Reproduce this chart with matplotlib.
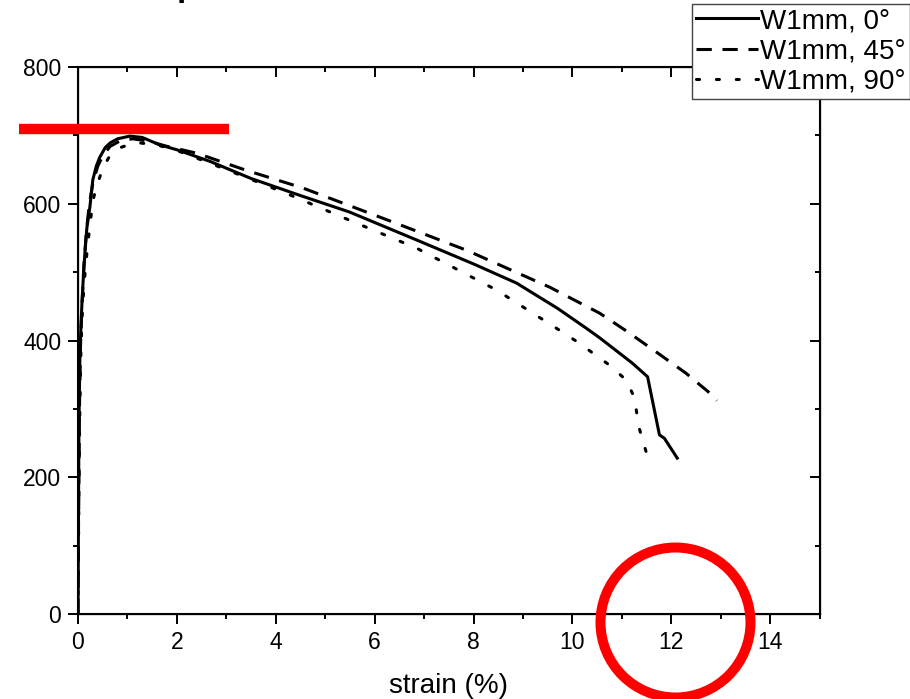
import numpy as np
import matplotlib.pyplot as plt

plt.rcParams['font.family'] = ['Liberation Sans', 'DejaVu Sans']

# strain (%) / stress values
x_0deg = [0, 0.01, 0.02, 0.04, 0.06, 0.08, 0.11, 0.14, 0.18, 0.24, 0.30, 0.37, 0.44,
          0.55, 0.65, 0.8, 1.05, 1.3, 1.66, 2.0, 2.67, 3.5, 4.5, 5.49, 6.85, 8.0,
          8.87, 9.7, 10.28, 10.55, 11.21, 11.52, 11.76, 11.86, 12.12]
y_0deg = [0, 150, 280, 382, 420, 455, 495, 528, 565, 595, 635, 655, 668,
          682, 689, 695, 699, 697, 686, 679, 662, 637, 612, 588, 547, 512,
          484, 447, 418, 404, 367, 347, 262, 257, 228]

x_45deg = [0, 0.01, 0.03, 0.05, 0.08, 0.12, 0.17, 0.23, 0.3, 0.4, 0.5, 0.65, 0.85,
           1.1, 1.4, 1.8, 2.4, 3.4, 4.55, 6.16, 7.86, 9.54, 10.55, 11.09, 11.7,
           12.3, 12.83, 12.92]
y_45deg = [0, 120, 300, 390, 450, 510, 560, 600, 630, 655, 670, 684, 692,
           695, 692, 684, 674, 649, 623, 579, 532, 478, 440, 414, 383,
           352, 320, 312]

x_90deg = [0, 0.01, 0.03, 0.05, 0.08, 0.12, 0.18, 0.25, 0.32, 0.4, 0.5, 0.65, 0.85,
           1.05, 1.25, 1.6, 2.0, 3.0, 4.22, 5.49, 6.85, 8.46, 9.74, 10.1, 10.75,
           11.09, 11.25, 11.35, 11.54]
y_90deg = [0, 100, 260, 360, 430, 480, 528, 575, 610, 630, 652, 671, 682,
           687, 689, 686, 678, 650, 615, 576, 535, 474, 415, 398, 364,
           342, 317, 272, 225]

labels = ['W1mm, 0°', 'W1mm, 45°', 'W1mm, 90°']
x_ticks = [0, 2, 4, 6, 8, 10, 12, 14]
y_ticks = [0, 200, 400, 600, 800]

# red marks drawn over the chart
red_bar_x = [-1.2, 3.05]
red_bar_y = [709, 709]
red_ring_x = 12.08
red_ring_y = -12

fig = plt.figure(figsize=(9.1, 6.99), dpi=100)
ax = fig.add_axes([0.0857, 0.1216, 0.815, 0.7825])

lw = 2.2
ax.plot(x_0deg, y_0deg, color='black', lw=lw, label=labels[0])
ax.plot(x_45deg, y_45deg, color='black', lw=lw, dashes=(5, 3.5), label=labels[1])
ax.plot(x_90deg, y_90deg, color='black', lw=lw, dashes=(1, 5.5),
        dash_capstyle='round', label=labels[2])

ax.set_xlim(0, 15)
ax.set_ylim(0, 800)
ax.set_xticks(x_ticks)
ax.set_yticks(y_ticks)
ax.set_xticks(np.arange(0, 16, 1), minor=True)
ax.set_yticks(np.arange(0, 900, 100), minor=True)
ax.tick_params(which='both', direction='out', width=1.4, labelsize=16.5, top=False, right=False)
ax.tick_params(which='major', length=7, pad=5)
ax.tick_params(which='minor', length=3.6)
for s in ax.spines.values():
    s.set_linewidth(1.5)
ax.set_xlabel('strain (%)', fontsize=20, labelpad=14)

# mirrored ticks pointing inward on top and right
axr = ax.twinx()
axr.set_ylim(0, 800)
axr.set_yticks(y_ticks)
axr.set_yticks(np.arange(0, 900, 100), minor=True)
axr.tick_params(which='both', direction='in', width=1.4, labelright=False)
axr.tick_params(which='major', length=7)
axr.tick_params(which='minor', length=3.6)
axt = ax.twiny()
axt.set_xlim(0, 15)
axt.set_xticks(x_ticks)
axt.set_xticks(np.arange(0, 16, 1), minor=True)
axt.tick_params(which='both', direction='in', width=1.4, labeltop=False)
axt.tick_params(which='major', length=7)
axt.tick_params(which='minor', length=3.6)

fig.legend(loc='upper right', bbox_to_anchor=(1.0, 1 - 4 / 699), borderaxespad=0,
           fontsize=20, handlelength=2.2, handletextpad=0.1, labelspacing=0.15,
           borderpad=0.15, fancybox=False, framealpha=1, edgecolor='#444444')

# red annotations
axt.plot(red_bar_x, red_bar_y, color='red', lw=7.5, solid_capstyle='butt',
         clip_on=False, zorder=10, transform=ax.transData)
axt.plot([red_ring_x], [red_ring_y], 'o', ms=108, mfc='none', mec='red', mew=7.2,
         clip_on=False, zorder=10, transform=ax.transData)

# title, mostly cut off at the top edge
fig.text(0.194, 1 + 4 / 699, 'p', fontsize=24, fontweight='bold', va='baseline')
fig.text(0.350, 1 + 6 / 699, ',', fontsize=24, fontweight='bold', va='baseline')

fig.savefig('out.png', dpi=100)
